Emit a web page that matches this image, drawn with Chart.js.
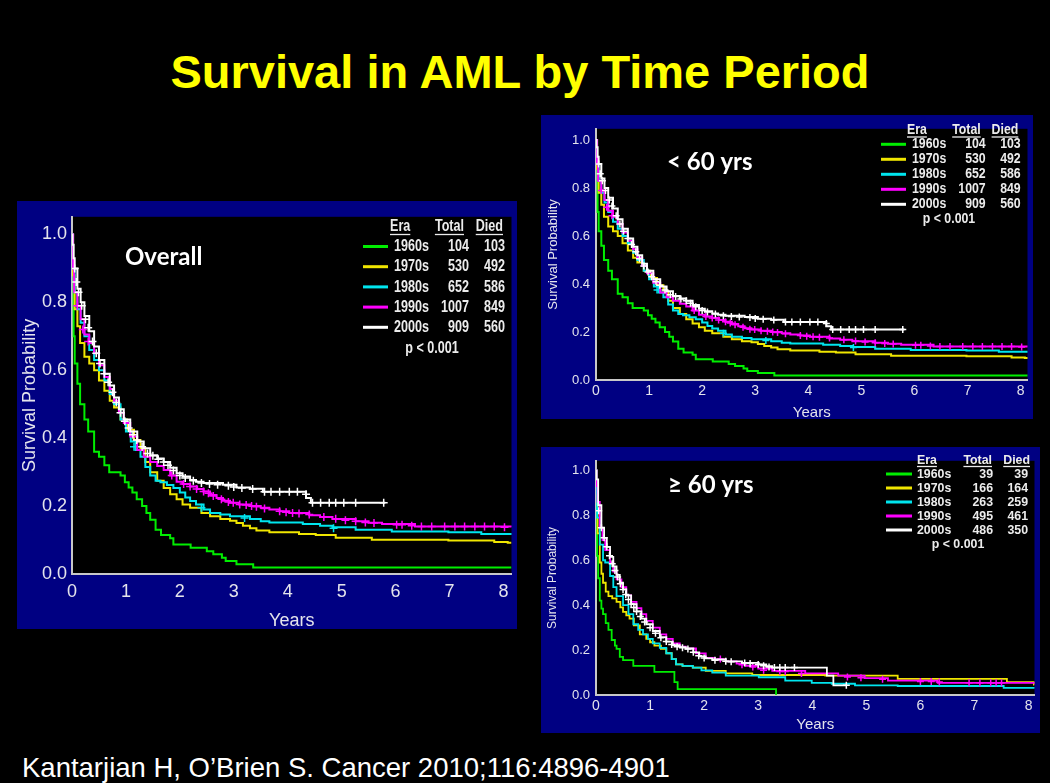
<!DOCTYPE html>
<html>
<head>
<meta charset="utf-8">
<script src="https://cdn.jsdelivr.net/npm/chart.js@4.4.1/dist/chart.umd.min.js"></script>
<style>
  html, body { margin: 0; padding: 0; background: #000; }
  body { width: 1050px; height: 783px; position: relative; overflow: hidden; font-family: "Liberation Sans", Arial, sans-serif; }
  #title { position: absolute; left: 0; width: 1040px; top: 44px; text-align: center; color: #ffff00; font-weight: bold; font-size: 47px; white-space: nowrap; }
  #cite { position: absolute; left: 22px; top: 752px; color: #fff; font-size: 27.5px; white-space: nowrap; }
  .panel { position: absolute; background: #000082; }
  .panel canvas { display: block; }
</style>
</head>
<body>
<div id="title">Survival in AML by Time Period</div>
<div class="panel" style="left:17px;top:201px;width:500px;height:428px"><canvas id="overallChart" width="500" height="428"></canvas></div>
<div class="panel" style="left:541px;top:115px;width:492px;height:304px"><canvas id="under60Chart" width="492" height="304"></canvas></div>
<div class="panel" style="left:541px;top:447px;width:499px;height:286px"><canvas id="over60Chart" width="499" height="286"></canvas></div>
<div id="cite">Kantarjian H, O’Brien S. Cancer 2010;116:4896-4901</div>

<script>
// Legend table values
const eras = ['1960s', '1970s', '1980s', '1990s', '2000s'];
const eraColors = ['#00ee00', '#f0e600', '#00e5ee', '#ff00ff', '#ffffff'];
const overallTotal = [104, 530, 652, 1007, 909];
const overallDied = [103, 492, 586, 849, 560];
const under60Total = [104, 530, 652, 1007, 909];
const under60Died = [103, 492, 586, 849, 560];
const over60Total = [39, 166, 263, 495, 486];
const over60Died = [39, 164, 259, 461, 350];
const pValue = 'p < 0.001';

const yTicks = [0, 0.2, 0.4, 0.6, 0.8, 1.0];
const xTicks = [0, 1, 2, 3, 4, 5, 6, 7, 8];

// Kaplan-Meier curves, [years, survival]
const overall1960s = [[0,1],[0.01,0.9],[0.03,0.7],[0.05,0.62],[0.1,0.56],[0.15,0.5],[0.23,0.455],[0.3,0.42],[0.41,0.36],[0.5,0.345],[0.6,0.32],[0.69,0.3],[0.9,0.29],[0.98,0.27],[1.05,0.255],[1.12,0.24],[1.2,0.22],[1.3,0.2],[1.38,0.18],[1.45,0.16],[1.55,0.13],[1.65,0.115],[1.82,0.105],[1.88,0.087],[2.2,0.077],[2.5,0.067],[2.62,0.058],[2.78,0.048],[2.85,0.038],[3.05,0.029],[3.36,0.019],[8.15,0.019]];
const overall1970s = [[0,1],[0.02,0.88],[0.05,0.78],[0.1,0.73],[0.15,0.68],[0.23,0.64],[0.32,0.62],[0.41,0.6],[0.5,0.57],[0.6,0.54],[0.7,0.51],[0.78,0.49],[0.9,0.455],[1.02,0.425],[1.15,0.395],[1.27,0.37],[1.36,0.33],[1.45,0.3],[1.58,0.275],[1.7,0.253],[1.82,0.235],[1.94,0.22],[2.05,0.205],[2.19,0.195],[2.4,0.18],[2.56,0.17],[2.75,0.162],[2.93,0.157],[3.05,0.15],[3.17,0.142],[3.3,0.135],[3.42,0.128],[3.66,0.123],[4.21,0.118],[4.52,0.115],[4.89,0.107],[5.56,0.101],[6.98,0.099],[7.83,0.094],[8.08,0.092],[8.15,0.092]];
const overall1980s = [[0,1],[0.02,0.9],[0.05,0.83],[0.1,0.78],[0.16,0.74],[0.23,0.7],[0.32,0.66],[0.41,0.63],[0.5,0.6],[0.6,0.57],[0.7,0.53],[0.78,0.5],[0.9,0.455],[1.0,0.42],[1.09,0.39],[1.18,0.365],[1.27,0.345],[1.36,0.315],[1.45,0.29],[1.55,0.275],[1.64,0.27],[1.76,0.262],[1.88,0.253],[2.0,0.24],[2.1,0.225],[2.19,0.215],[2.3,0.205],[2.44,0.19],[2.56,0.18],[2.75,0.175],[2.93,0.17],[3.3,0.162],[3.5,0.155],[3.66,0.152],[4.28,0.147],[4.6,0.142],[4.83,0.138],[5.26,0.13],[5.93,0.125],[6.98,0.123],[7.59,0.118],[8.15,0.115]];
const overall1990s = [[0,1],[0.02,0.9],[0.04,0.83],[0.1,0.79],[0.16,0.75],[0.23,0.705],[0.32,0.68],[0.41,0.65],[0.5,0.615],[0.6,0.58],[0.7,0.545],[0.78,0.51],[0.87,0.475],[0.96,0.445],[1.08,0.405],[1.21,0.365],[1.33,0.345],[1.45,0.33],[1.58,0.318],[1.7,0.306],[1.82,0.29],[1.94,0.272],[2.05,0.265],[2.19,0.258],[2.32,0.25],[2.44,0.243],[2.56,0.233],[2.68,0.224],[2.8,0.216],[2.93,0.21],[3.1,0.205],[3.3,0.2],[3.5,0.195],[3.66,0.19],[3.85,0.185],[4.03,0.18],[4.4,0.173],[4.6,0.168],[4.83,0.162],[5.26,0.155],[5.5,0.151],[5.75,0.147],[6.36,0.14],[8.15,0.138]];
const overall2000s = [[0,1],[0.01,0.97],[0.03,0.93],[0.05,0.9],[0.1,0.84],[0.16,0.8],[0.23,0.76],[0.32,0.715],[0.41,0.67],[0.5,0.63],[0.6,0.59],[0.7,0.555],[0.78,0.52],[0.87,0.485],[0.96,0.455],[1.08,0.42],[1.21,0.39],[1.33,0.37],[1.45,0.35],[1.58,0.34],[1.7,0.33],[1.82,0.313],[1.94,0.297],[2.05,0.287],[2.19,0.277],[2.3,0.272],[2.44,0.268],[2.8,0.263],[3.05,0.255],[3.3,0.251],[3.54,0.242],[4.21,0.242],[4.34,0.224],[4.43,0.21],[5.81,0.21]];

// censored patients ("+" marks)
const overallCens1980s = [[1.15,0.375],[2.4,0.195],[3.2,0.165],[4.85,0.135]];
const overallCens1990s = [[0.1,0.79],[0.2,0.72],[0.3,0.685],[1.85,0.29],[2.07,0.265],[2.19,0.258],[2.31,0.25],[2.44,0.243],[2.53,0.238],[2.62,0.23],[2.77,0.22],[2.9,0.212],[2.99,0.21],[3.11,0.205],[3.23,0.203],[3.33,0.2],[3.42,0.198],[3.57,0.193],[3.85,0.185],[3.97,0.182],[4.09,0.18],[4.21,0.178],[4.4,0.175],[4.67,0.168],[4.89,0.163],[5.07,0.158],[5.26,0.155],[5.44,0.152],[5.6,0.15],[6.02,0.145],[6.12,0.145],[6.3,0.142],[6.48,0.14],[6.67,0.14],[6.91,0.14],[7.1,0.14],[7.28,0.14],[7.47,0.14],[7.65,0.14],[7.83,0.14],[8.02,0.138]];
const overallCens2000s = [[0.05,0.9],[0.08,0.86],[0.12,0.83],[0.18,0.79],[0.25,0.75],[0.3,0.725],[0.38,0.685],[0.45,0.65],[0.52,0.62],[0.6,0.59],[0.67,0.565],[0.75,0.535],[0.82,0.505],[0.9,0.475],[0.98,0.45],[1.05,0.43],[1.13,0.41],[1.2,0.395],[1.3,0.375],[1.4,0.355],[1.5,0.348],[1.6,0.338],[1.7,0.33],[1.78,0.32],[1.88,0.305],[2.0,0.29],[2.1,0.283],[2.25,0.275],[2.4,0.268],[2.55,0.265],[2.7,0.263],[2.9,0.26],[3.0,0.256],[3.15,0.253],[3.35,0.25],[3.57,0.242],[3.69,0.242],[3.85,0.242],[4.03,0.242],[4.18,0.242],[4.34,0.235],[4.46,0.21],[4.61,0.21],[4.77,0.21],[4.89,0.21],[5.04,0.21],[5.26,0.21],[5.78,0.21]];

// the < 60 yrs panel on the slide shows the same curves as the overall one
const under60Curves = [overall1960s, overall1970s, overall1980s, overall1990s, overall2000s];
const under60Censors = [[], [], overallCens1980s, overallCens1990s, overallCens2000s];

const over60_1960s = [[0,1],[0.01,0.8],[0.02,0.62],[0.04,0.52],[0.07,0.42],[0.1,0.385],[0.13,0.36],[0.18,0.32],[0.23,0.29],[0.29,0.245],[0.35,0.22],[0.38,0.205],[0.44,0.17],[0.5,0.155],[0.69,0.13],[1.08,0.103],[1.45,0.057],[1.51,0.026],[3.33,0]];
const over60_1970s = [[0,1],[0.01,0.85],[0.03,0.72],[0.07,0.59],[0.1,0.54],[0.13,0.5],[0.18,0.46],[0.23,0.44],[0.3,0.43],[0.38,0.415],[0.45,0.39],[0.5,0.37],[0.56,0.355],[0.62,0.34],[0.7,0.31],[0.81,0.27],[0.93,0.25],[1.0,0.235],[1.08,0.22],[1.2,0.205],[1.3,0.186],[1.4,0.16],[1.48,0.136],[1.6,0.13],[1.79,0.122],[2.03,0.107],[2.4,0.096],[2.89,0.089],[4.24,0.086],[5.58,0.072],[7.6,0.057],[8.1,0.046],[8.11,0.046]];
const over60_1980s = [[0,1],[0.01,0.9],[0.02,0.79],[0.07,0.67],[0.13,0.6],[0.17,0.59],[0.26,0.53],[0.32,0.48],[0.38,0.44],[0.5,0.4],[0.6,0.36],[0.69,0.315],[0.78,0.29],[0.87,0.27],[0.96,0.25],[1.05,0.23],[1.18,0.21],[1.3,0.186],[1.4,0.16],[1.48,0.136],[1.6,0.13],[1.79,0.122],[1.95,0.11],[2.15,0.1],[2.4,0.086],[3.01,0.079],[3.5,0.064],[3.99,0.054],[4.36,0.05],[4.79,0.043],[5.58,0.04],[7.54,0.032],[8.11,0.029]];
const over60_1990s = [[0,1],[0.01,0.93],[0.03,0.86],[0.07,0.745],[0.12,0.69],[0.17,0.645],[0.26,0.59],[0.32,0.55],[0.38,0.515],[0.47,0.48],[0.56,0.444],[0.65,0.415],[0.75,0.387],[0.84,0.36],[0.93,0.33],[1.05,0.3],[1.18,0.27],[1.3,0.25],[1.42,0.23],[1.55,0.215],[1.66,0.207],[1.85,0.185],[2.03,0.165],[2.2,0.158],[2.4,0.15],[2.6,0.14],[2.77,0.13],[3.0,0.118],[3.26,0.107],[3.87,0.096],[4.48,0.086],[4.97,0.075],[5.4,0.064],[6.32,0.054],[8.11,0.05]];
const over60_2000s = [[0,1],[0.01,0.96],[0.04,0.845],[0.1,0.745],[0.15,0.7],[0.2,0.66],[0.26,0.615],[0.32,0.573],[0.38,0.535],[0.44,0.5],[0.5,0.47],[0.56,0.444],[0.65,0.405],[0.75,0.372],[0.84,0.34],[0.93,0.315],[1.05,0.285],[1.18,0.258],[1.3,0.238],[1.42,0.222],[1.55,0.213],[1.66,0.207],[1.8,0.19],[1.91,0.172],[2.03,0.163],[2.15,0.158],[2.4,0.15],[2.7,0.143],[3.01,0.136],[3.15,0.128],[3.26,0.122],[4.27,0.122],[4.27,0.086],[4.39,0.043],[4.63,0.043]];

const over60Cens1990s = [[2.3,0.16],[2.7,0.135],[2.9,0.125],[3.1,0.11],[3.4,0.105],[3.5,0.105],[3.8,0.096],[4.65,0.08],[4.9,0.077],[5.3,0.07],[6.0,0.06],[6.2,0.06],[6.35,0.058],[6.9,0.055],[7.1,0.055],[7.3,0.054],[7.4,0.054],[7.5,0.054]];
const over60Cens2000s = [[0.05,0.82],[0.1,0.745],[0.15,0.7],[0.2,0.66],[0.25,0.62],[0.3,0.585],[0.35,0.555],[0.4,0.525],[0.45,0.495],[0.5,0.47],[0.55,0.448],[0.6,0.425],[0.65,0.405],[0.7,0.39],[0.75,0.372],[0.82,0.35],[0.9,0.325],[1.0,0.3],[1.1,0.275],[1.2,0.255],[1.3,0.238],[1.4,0.225],[1.5,0.215],[1.6,0.21],[1.7,0.205],[1.8,0.19],[1.9,0.175],[2.0,0.165],[2.2,0.155],[2.4,0.15],[2.5,0.148],[2.75,0.142],[2.85,0.14],[3.0,0.136],[3.1,0.13],[3.2,0.125],[3.3,0.122],[3.4,0.122],[3.5,0.122],[3.67,0.122],[4.63,0.043]];

// black plot area + in-plot label + era table
const kmTable = {
    id: 'kmTable',
    beforeDraw(chart) {
        const a = chart.chartArea;
        const ctx = chart.ctx;
        ctx.save();
        ctx.fillStyle = '#000';
        ctx.fillRect(a.left, a.top, a.right - a.left, a.bottom - a.top);
        ctx.restore();
    },
    afterDraw(chart, args, o) {
        const ctx = chart.ctx;
        ctx.save();
        ctx.fillStyle = '#fff';
        ctx.font = 'bold ' + o.labelSize + 'px Lato, "Open Sans", sans-serif';
        ctx.textBaseline = 'middle';
        ctx.textAlign = 'left';
        ctx.fillText(o.label, o.labelX, o.labelY);

        ctx.font = 'bold ' + o.size + 'px "Liberation Sans", Arial, sans-serif';
        ctx.fillStyle = '#ececec';
        ctx.strokeStyle = '#ececec';
        function txt(s, x, y, align, underline) {
            ctx.save();
            ctx.translate(x, y);
            ctx.scale(o.squeeze, 1);
            ctx.textAlign = align;
            ctx.fillText(s, 0, 0);
            if (underline) {
                const w = ctx.measureText(s).width;
                const x0 = align === 'right' ? -w : 0;
                ctx.lineWidth = 1.3;
                ctx.beginPath();
                ctx.moveTo(x0, o.size * 0.5);
                ctx.lineTo(x0 + w, o.size * 0.5);
                ctx.stroke();
            }
            ctx.restore();
        }
        txt('Era', o.eraHeadX, o.headY, 'left', true);
        txt('Total', o.totalHeadX, o.headY, 'right', true);
        txt('Died', o.diedHeadX, o.headY, 'right', true);
        eras.forEach((era, i) => {
            const y = o.rowY + i * o.rowGap;
            ctx.save();
            ctx.strokeStyle = eraColors[i];
            ctx.lineWidth = 3;
            ctx.beginPath();
            ctx.moveTo(o.lineX0, y);
            ctx.lineTo(o.lineX1, y);
            ctx.stroke();
            ctx.restore();
            txt(era, o.eraX, y, 'left');
            txt(String(o.totals[i]), o.totalX, y, 'right');
            txt(String(o.died[i]), o.diedX, y, 'right');
        });
        txt(pValue, o.pX, o.pY, 'center');
        ctx.restore();
    }
};

function makeDatasets(curves, censors, lw, markR) {
    const sets = [];
    curves.forEach((curve, i) => {
        sets.push({
            data: curve.map(p => ({ x: p[0], y: p[1] })),
            borderColor: eraColors[i],
            borderWidth: lw,
            pointRadius: 0,
            stepped: true,
            fill: false,
            order: 4 - i
        });
    });
    censors.forEach((marks, i) => {
        if (!marks.length) return;
        sets.push({
            data: marks.map(p => ({ x: p[0], y: p[1] })),
            showLine: false,
            pointStyle: 'cross',
            pointRadius: markR,
            pointBorderWidth: 1.5,
            pointBorderColor: eraColors[i],
            borderColor: eraColors[i],
            order: 4 - i
        });
    });
    return sets;
}

function drawPanel(id, curves, censors, p, table) {
    const axisColor = '#c8c8c8';
    const textColor = '#e4e4ec';
    return new Chart(document.getElementById(id), {
        type: 'line',
        data: { datasets: makeDatasets(curves, censors, p.lineWidth, p.markR) },
        options: {
            responsive: false,
            animation: false,
            events: [],
            layout: { padding: { top: p.top, right: p.right, left: 0, bottom: 0 } },
            plugins: { legend: { display: false }, tooltip: { enabled: false }, kmTable: table },
            scales: {
                x: {
                    type: 'linear', min: 0, max: p.xMax,
                    afterBuildTicks: s => { s.ticks = xTicks.map(v => ({ value: v })); },
                    afterFit: s => { s.height = p.bottom; },
                    grid: { display: false, drawTicks: false },
                    border: { display: true, color: axisColor, width: 2 },
                    ticks: { color: textColor, font: { size: p.xTickSize, family: '"Liberation Sans", Arial' }, padding: p.xTickPad, autoSkip: false, maxRotation: 0 },
                    title: { display: true, text: 'Years', color: textColor, font: { size: p.xTitleSize, family: '"Liberation Sans", Arial', lineHeight: 1 }, padding: { top: 0, bottom: p.xTitlePad } }
                },
                y: {
                    min: 0, max: p.yMax,
                    afterBuildTicks: s => { s.ticks = yTicks.map(v => ({ value: v })); },
                    afterFit: s => { s.width = 55; },
                    grid: { display: false, drawTicks: false },
                    border: { display: true, color: axisColor, width: 2 },
                    ticks: { color: textColor, font: { size: p.yTickSize, family: '"Liberation Sans", Arial' }, padding: p.yTickPad, callback: v => v.toFixed(1) },
                    title: { display: true, text: 'Survival Probability', color: textColor, font: { size: p.yTitleSize, family: '"Liberation Sans", Arial', lineHeight: 1 }, padding: { top: p.yTitlePad, bottom: 0 } }
                }
            }
        },
        plugins: [kmTable]
    });
}

drawPanel('overallChart',
    [overall1960s, overall1970s, overall1980s, overall1990s, overall2000s],
    [[], [], overallCens1980s, overallCens1990s, overallCens2000s],
    { top: 9, right: 2, bottom: 55, xMax: 8.15, yMax: 1.052, lineWidth: 2, markR: 4,
      xTickSize: 18, xTickPad: 7, yTickSize: 18, yTickPad: 5, xTitleSize: 18, xTitlePad: -1, yTitleSize: 18, yTitlePad: 4 },
    { label: 'Overall', labelSize: 24, labelX: 108, labelY: 56, size: 17, squeeze: 0.74,
      headY: 25, rowY: 45.5, rowGap: 20.2, pX: 415, pY: 147,
      lineX0: 346, lineX1: 371, eraX: 377, eraHeadX: 373, totalHeadX: 447, diedHeadX: 486, totalX: 452, diedX: 488,
      totals: overallTotal, died: overallDied });

drawPanel('under60Chart', under60Curves, under60Censors,
    { top: 7, right: 3, bottom: 39, xMax: 8.13, yMax: 1.047, lineWidth: 2, markR: 3.5,
      xTickSize: 14, xTickPad: 3, yTickSize: 13, yTickPad: 6, xTitleSize: 15, xTitlePad: -1.5, yTitleSize: 13, yTitlePad: 5.5 },
    { label: '< 60 yrs', labelSize: 24, labelX: 126, labelY: 47, size: 14, squeeze: 0.88,
      headY: 15, rowY: 29.3, rowGap: 15, pX: 408, pY: 104.3,
      lineX0: 340, lineX1: 365, eraX: 371, eraHeadX: 366, totalHeadX: 439.7, diedHeadX: 477.3, totalX: 444.7, diedX: 479.7,
      totals: under60Total, died: under60Died });

drawPanel('over60Chart',
    [over60_1960s, over60_1970s, over60_1980s, over60_1990s, over60_2000s],
    [[], [], [], over60Cens1990s, over60Cens2000s],
    { top: 5, right: 3, bottom: 38, xMax: 8.11, yMax: 1.043, lineWidth: 1.8, markR: 3.5,
      xTickSize: 14, xTickPad: 3, yTickSize: 13, yTickPad: 6, xTitleSize: 15, xTitlePad: 0.5, yTitleSize: 12, yTitlePad: 5.5 },
    { label: '≥ 60 yrs', labelSize: 24, labelX: 127, labelY: 38, size: 13, squeeze: 0.95,
      headY: 13, rowY: 27, rowGap: 14, pX: 417, pY: 97,
      lineX0: 345, lineX1: 371, eraX: 376, eraHeadX: 376, totalHeadX: 451, diedHeadX: 489, totalX: 452, diedX: 487,
      totals: over60Total, died: over60Died });
</script>
</body>
</html>
